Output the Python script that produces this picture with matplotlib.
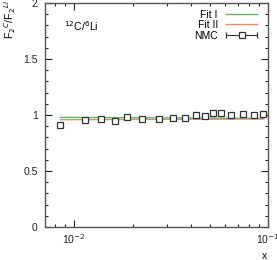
import matplotlib
matplotlib.use("Agg")
import matplotlib.pyplot as plt
from matplotlib.ticker import LogLocator, MultipleLocator, FixedLocator
from matplotlib.legend_handler import HandlerErrorbar
from matplotlib.container import ErrorbarContainer

plt.rcParams['font.family'] = ['Liberation Sans', 'DejaVu Sans']

nmc_x = [0.00847, 0.0113, 0.0138, 0.0163, 0.0187, 0.0224, 0.0273, 0.0324, 0.0373,
         0.0424, 0.0473, 0.0521, 0.0573, 0.0648, 0.0747, 0.0847, 0.0947]
nmc_y = [0.908, 0.953, 0.962, 0.949, 0.982, 0.967, 0.962, 0.970, 0.976,
         0.997, 0.994, 1.015, 1.015, 0.997, 1.006, 1.000, 1.006]
nmc_xerr = [0.0] * len(nmc_x)

fit1_x = [0.0085, 0.095]
fit1_y = [0.979, 0.970]
fit2_x = [0.0085, 0.095]
fit2_y = [0.958, 0.964]

fig = plt.figure(figsize=(2.77, 2.60), dpi=100)
ax = fig.add_axes([44.7/277, 1 - 227/260, (268 - 44.7)/277, (227 - 3)/260])

ax.plot(fit1_x, fit1_y, color='#5cb85c', lw=1.0, label='Fit I')
ax.plot(fit2_x, fit2_y, color='#dd8e6e', lw=1.0, label='Fit II')
eb = ax.errorbar(nmc_x, nmc_y, xerr=nmc_xerr, fmt='s', ms=4, mfc='white', mec='#333333',
                 mew=0.9, ecolor='#333333', elinewidth=0.8, capsize=2, label='NMC',
                 linestyle='none', zorder=3)

ax.set_xscale('log')
ax.set_xlim(0.00704, 0.1)
ax.set_ylim(0, 2)
ax.set_xticks([0.01, 0.1])
ax.set_xticklabels(['10$^{-2}$', '10$^{-1}$'])
ax.xaxis.set_minor_locator(LogLocator(base=10, subs=[2, 3, 4, 5, 6, 7, 8, 9]))
ax.xaxis.set_minor_formatter(plt.NullFormatter())
ax.yaxis.set_major_locator(FixedLocator([0, 0.5, 1, 1.5, 2]))
ax.set_yticklabels(['0', '0.5', '1', '1.5', '2'])
ax.yaxis.set_minor_locator(MultipleLocator(0.1))

ax.tick_params(which='both', direction='in', top=True, right=True, labelsize=7.5,
               colors='#222222', width=0.8)
ax.tick_params(which='major', length=5)
ax.tick_params(which='minor', length=2.5)
ax.tick_params(axis='y', pad=5)
ax.tick_params(axis='x', pad=4)
for s in ax.spines.values():
    s.set_color('#555555')
    s.set_linewidth(1.0)

ax.text(0.086, 0.897, '$^{12}$C/$^{6}$Li', transform=ax.transAxes, fontsize=7.5, va='center')
fig.text(10/277, 1.0, 'F$_2$$^{C}$/F$_2$$^{Li}$', rotation=90, fontsize=7.5,
         ha='center', va='top')
fig.text(265/277, 1 - 256/260, 'x', fontsize=7.5, ha='center', va='center')

leg = ax.legend(loc='upper right', bbox_to_anchor=(0.985, 1.003), frameon=False,
                fontsize=7.5, markerfirst=False, handlelength=3.0, labelspacing=0.05,
                handletextpad=0.8, borderpad=0.2,
                handler_map={ErrorbarContainer: HandlerErrorbar(xerr_size=1.5)})

fig.savefig('out.png', dpi=100)
